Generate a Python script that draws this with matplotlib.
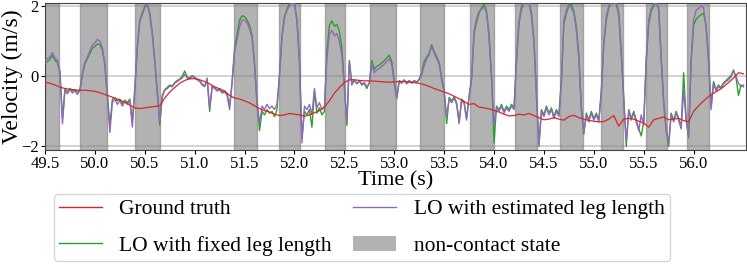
import numpy as np
import matplotlib
matplotlib.use("Agg")
import matplotlib.pyplot as plt
from matplotlib.patches import Patch
from matplotlib.lines import Line2D

plt.rcParams['font.family'] = ['Liberation Serif', 'DejaVu Serif']
plt.rcParams['mathtext.fontset'] = 'stix'

# Ground truth velocity, sampled every 0.05 s from 49.5 s
ground_truth = [
    -0.17, -0.20, -0.25, -0.31, -0.35, -0.37, -0.39, -0.40, -0.40, -0.41,
    -0.43, -0.47, -0.52, -0.57, -0.62, -0.68, -0.74, -0.82, -0.90, -0.92,
    -0.90, -0.88, -0.86, -0.84, -0.62, -0.45, -0.32, -0.20, -0.12, -0.07,
    -0.07, -0.10, -0.15, -0.22, -0.30, -0.36, -0.42, -0.55, -0.62, -0.65,
    -0.70, -0.76, -0.84, -0.92, -0.98, -1.02, -1.08, -1.12, -1.10, -1.06,
    -1.08, -1.10, -1.14, -1.10, -1.04, -0.98, -0.88, -0.70, -0.48, -0.32,
    -0.18, -0.10, -0.10, -0.12, -0.13, -0.13, -0.14, -0.15, -0.16, -0.17,
    -0.16, -0.15, -0.15, -0.16, -0.18, -0.20, -0.24, -0.29, -0.35, -0.40,
    -0.45, -0.50, -0.57, -0.64, -0.72, -0.80, -0.78, -0.88, -0.90, -0.93,
    -0.97, -1.02, -1.08, -1.13, -1.12, -1.08, -1.10, -1.06, -1.12, -1.18,
    -1.24, -1.22, -1.18, -1.22, -1.25, -1.15, -1.11, -1.18, -1.22, -1.26,
    -1.28, -1.30, -1.29, -1.22, -1.12, -1.42, -1.22, -1.20, -1.22, -1.28,
    -1.33, -1.45, -1.24, -1.20, -1.16, -1.24, -1.22, -1.20, -1.26, -1.30,
    -1.00, -0.84, -0.70, -0.58, -0.48, -0.40, -0.30, -0.18, -0.05, 0.10,
    0.07,
]

# LO with estimated leg length, sampled every 0.025 s from 49.5 s
lo_estimated = [
    0.45, 0.50, 0.55, 0.68, 0.52, 0.45, 0.05, -1.35, -0.40, -0.50,
    -0.38, -0.48, -0.42, -0.52, -0.40, 0.10, 0.40, 0.55, 0.72, 0.88,
    0.95, 1.05, 1.00, 0.80, 0.30, -0.60, -1.60, -0.75, -0.65, -0.80,
    -0.70, -0.85, -0.72, -0.80, -0.68, -1.45, -0.40, 0.80, 1.55, 1.75,
    1.95, 2.05, 1.75, 1.20, 0.40, -0.50, -1.30, -0.60, -0.40, -0.35,
    -0.28, -0.30, -0.20, -0.15, -0.10, -0.05, 0.05, -0.05, -0.08, 0.00,
    -0.05, -0.10, -0.15, -0.25, -0.30, -0.05, -0.90, -0.30, -0.35, -0.42,
    -0.38, -0.48, -0.45, -0.55, -0.95, -0.20, 0.70, 1.05, 1.40, 1.60,
    1.60, 1.52, 1.35, 1.10, 0.30, -0.70, -1.35, -0.85, -0.95, -0.80,
    -0.92, -0.85, -0.95, -0.80, 0.00, 1.10, 1.65, 1.88, 2.00, 2.10,
    2.05, 1.55, 0.40, -1.90, -0.85, -0.95, -0.80, -1.10, -0.35, -0.90,
    -0.75, -0.95, -0.85, 0.50, 1.20, 1.30, 1.15, 1.22, 1.00, 0.60,
    -0.30, -1.30, 0.40, -0.25, -0.12, -0.20, -0.15, -0.22, -0.18, -0.30,
    -0.20, 0.35, 0.10, 0.18, 0.22, 0.28, 0.34, 0.42, 0.50, 0.34,
    -0.20, -0.65, -0.15, -0.20, -0.12, -0.22, -0.15, -0.20, -0.14, -0.18,
    -0.10, 0.05, 0.30, 0.50, 0.60, 0.85, 0.65, 0.50, 0.35, -0.10,
    -0.45, -1.15, -0.65, -0.75, -0.62, -0.80, -1.35, -0.70, -0.78, -1.25,
    -0.60, -0.10, 1.30, 1.65, 1.85, 1.90, 1.98, 1.80, 1.10, -0.10,
    -1.40, -0.90, -1.00, -0.85, -1.05, -0.90, -1.00, -0.85, -0.95, 0.50,
    1.60, 2.00, 2.10, 2.10, 2.10, 1.70, 0.95, -0.60, -1.90, -1.00,
    -1.15, -0.90, -1.10, -0.95, -1.20, -1.00, -1.15, -0.20, 1.60, 1.88,
    2.05, 1.95, 1.80, 1.30, 0.50, -1.00, -1.55, -1.10, -1.30, -1.05,
    -1.25, -1.10, -1.30, -0.50, 0.99, 1.70, 2.00, 2.10, 2.10, 2.05,
    1.70, 0.60, -0.70, -1.85, -1.00, -1.25, -1.05, -1.30, -1.55, -1.10,
    -1.40, 0.50, 1.60, 1.93, 2.05, 2.10, 1.88, 0.46, -0.80, -1.55,
    -1.88, -1.10, -1.30, -1.05, -1.25, -1.50, -0.40, -1.26, -1.70, 0.50,
    1.60, 1.88, 1.93, 2.00, 1.95, 1.40, 0.40, -0.95, -0.20, -0.42,
    -0.30, -0.35, -0.22, -0.15, -0.10, -0.02, 0.15, 0.00, -0.20, -0.30,
    -0.25,
]

# LO with fixed leg length, sampled every 0.025 s from 49.5 s
lo_fixed = [
    0.38, 0.42, 0.48, 0.60, 0.45, 0.38, 0.15, -1.20, -0.35, -0.45,
    -0.35, -0.42, -0.38, -0.45, -0.38, 0.05, 0.35, 0.50, 0.65, 0.80,
    0.85, 0.92, 0.90, 0.75, 0.35, -0.50, -1.40, -0.65, -0.62, -0.70,
    -0.65, -0.78, -0.68, -0.75, -0.65, -1.30, -0.35, 0.85, 1.60, 1.80,
    2.00, 2.05, 1.80, 1.25, 0.45, -0.40, -1.40, -0.55, -0.38, -0.32,
    -0.25, -0.28, -0.18, -0.12, -0.08, 0.00, 0.15, -0.02, -0.05, 0.02,
    -0.03, -0.08, -0.12, -0.22, -0.28, -0.10, -1.00, -0.28, -0.32, -0.40,
    -0.35, -0.45, -0.42, -0.50, -0.85, -0.15, 0.80, 1.20, 1.60, 1.72,
    1.70, 1.60, 1.45, 1.15, 0.35, -0.80, -1.55, -1.00, -1.10, -0.95,
    -1.05, -1.00, -1.15, -0.95, 0.05, 1.15, 1.70, 1.92, 2.05, 2.10,
    2.10, 1.60, 0.45, -1.75, -1.00, -1.10, -0.95, -1.45, -0.45, -1.05,
    -0.90, -1.10, -1.00, 0.70, 1.45, 1.58, 1.42, 1.48, 1.28, 0.80,
    -0.25, -1.40, 0.45, -0.20, -0.10, -0.22, -0.12, -0.25, -0.20, -0.35,
    -0.18, 0.45, 0.20, 0.28, 0.32, 0.38, 0.44, 0.52, 0.60, 0.42,
    -0.15, -0.60, -0.12, -0.18, -0.10, -0.20, -0.12, -0.18, -0.12, -0.16,
    -0.08, 0.10, 0.42, 0.55, 0.65, 0.90, 0.70, 0.55, 0.40, -0.05,
    -0.40, -1.35, -0.60, -0.70, -0.58, -0.75, -1.30, -0.65, -0.72, -1.20,
    -0.55, -0.05, 1.20, 1.55, 1.80, 1.95, 2.05, 1.85, 1.20, 0.00,
    -1.90, -0.85, -0.95, -0.80, -1.00, -0.85, -0.95, -0.80, -0.90, 0.40,
    1.50, 1.90, 2.10, 2.10, 2.10, 1.80, 1.05, -0.50, -2.00, -0.95,
    -1.10, -0.85, -1.05, -0.90, -1.15, -0.95, -1.10, -0.10, 1.50, 1.80,
    2.00, 2.05, 1.85, 1.40, 0.60, -0.90, -1.65, -1.05, -1.25, -1.00,
    -1.20, -1.05, -1.25, -0.40, 0.90, 1.60, 1.95, 2.10, 2.10, 2.10,
    1.80, 0.70, -0.60, -2.00, -0.95, -1.20, -1.00, -1.25, -1.50, -1.70,
    -1.30, 0.40, 1.50, 1.85, 2.00, 2.10, 1.95, 0.55, -0.70, -1.50,
    -2.00, -1.05, -1.25, -1.00, -1.20, -1.45, 0.10, -1.20, -1.75, 0.40,
    1.45, 1.62, 1.70, 1.75, 1.80, 1.45, 0.50, -0.85, -0.15, -0.38,
    -0.25, -0.32, -0.18, -0.12, -0.05, 0.02, 0.18, -0.05, -0.55, -0.25,
    -0.30,
]

# Non-contact state intervals (s)
noncontact_start = [49.50, 49.85, 50.40, 51.39, 51.84, 52.31, 52.76, 53.26,
                    53.76, 54.21, 54.66, 55.07, 55.52, 55.93]
noncontact_end = [49.64, 50.12, 50.65, 51.62, 52.06, 52.51, 53.02, 53.50,
                  54.00, 54.43, 54.89, 55.29, 55.73, 56.15]

x_ticks = [49.5, 50.0, 50.5, 51.0, 51.5, 52.0, 52.5, 53.0, 53.5, 54.0, 54.5,
           55.0, 55.5, 56.0]
y_ticks = [-2, 0, 2]

t_gt = 49.5 + 0.05 * np.arange(len(ground_truth))
t_lo = 49.5 + 0.025 * np.arange(len(lo_estimated))

fig = plt.figure(figsize=(7.47, 2.64), dpi=100)
ax = fig.add_axes([45 / 747, 114 / 264, 700.5 / 747, 147.5 / 264])

for s, e in zip(noncontact_start, noncontact_end):
    ax.axvspan(s, e, color='gray', alpha=0.6, zorder=1)

ax.plot(t_lo, lo_fixed, color='tab:green', lw=1.0, zorder=3)
ax.plot(t_lo, lo_estimated, color='tab:purple', lw=1.0, zorder=4)
ax.plot(t_gt, ground_truth, color='tab:red', lw=0.9, zorder=5)

ax.set_xlim(49.5, 56.52)
ax.set_ylim(-2.1, 2.1)
ax.set_xticks(x_ticks)
ax.set_xticklabels([f"{v:.1f}" for v in x_ticks])
ax.set_yticks(y_ticks)
ax.set_yticklabels(["\u22122", "0", "2"])
ax.set_axisbelow(True)
ax.grid(axis='y', color='#cccccc', lw=1.2)
ax.tick_params(labelsize=12, length=3, width=0.8, pad=1.5)
for sp in ax.spines.values():
    sp.set_color('#444444')
    sp.set_linewidth(0.8)

ax.set_xlabel("Time (s)", fontsize=16, labelpad=-1)
ax.set_ylabel("Velocity (m/s)", fontsize=17, labelpad=-1.5)

handles = [
    Line2D([], [], color='tab:red', lw=1.0),
    Line2D([], [], color='tab:green', lw=1.0),
    Line2D([], [], color='tab:purple', lw=1.0),
    Patch(facecolor='gray', alpha=0.6, edgecolor='none'),
]
labels = ["Ground truth", "LO with fixed leg length",
          "LO with estimated leg length", "non-contact state"]
fig.legend(handles, labels, ncol=2, loc='upper left',
           bbox_to_anchor=(53.5 / 747, 1 - 194 / 264), fontsize=15.5,
           frameon=True, borderaxespad=0, labelspacing=0.75,
           columnspacing=1.0, handlelength=2.0, handletextpad=0.8,
           borderpad=0.25)

fig.savefig("out.png", dpi=100)
